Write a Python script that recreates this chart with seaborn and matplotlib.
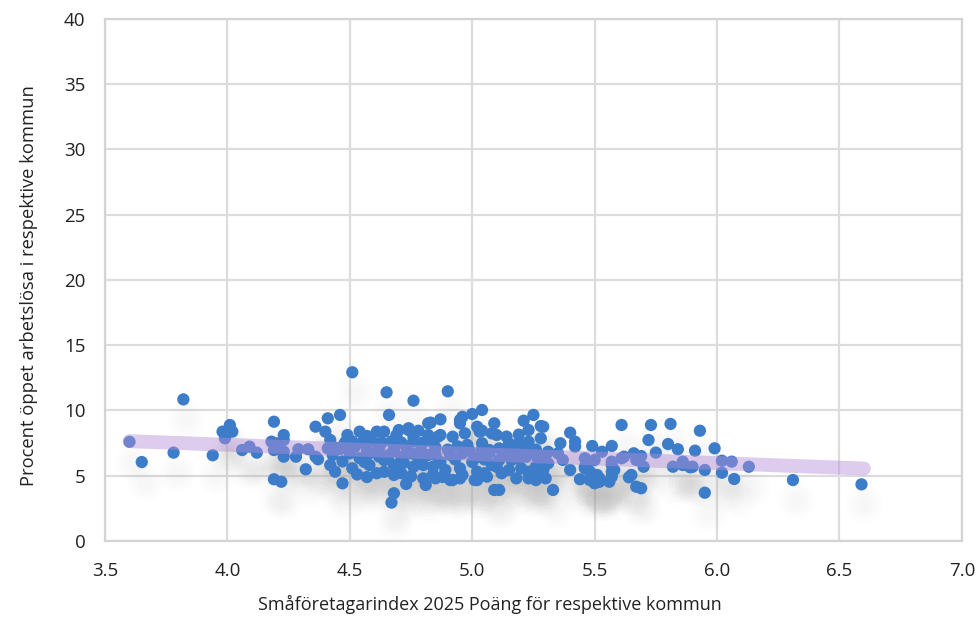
import numpy as np
import matplotlib.pyplot as plt
import matplotlib.transforms as mtransforms
import seaborn as sns
import pandas as pd

# Småföretagarindex 2025 (poäng) per kommun
index_2025 = [
    3.60, 3.65, 3.82, 3.78, 3.94, 3.98, 4.01, 4.02, 3.99, 4.06, 4.09, 4.12,
    4.19, 4.18, 4.20, 4.23, 4.23, 4.19, 4.23, 4.23, 4.19, 4.22, 4.28, 4.29,
    4.33, 4.32, 4.36, 4.36, 4.40, 4.41, 4.41, 4.42, 4.44, 4.37, 4.42, 4.45,
    4.51, 4.65, 4.76, 4.90, 4.46, 4.66, 4.87, 4.83, 4.95, 4.96, 5.00, 5.04,
    5.02, 5.04, 4.54, 4.61, 4.64, 4.70, 4.74, 4.78, 4.82, 4.86, 4.92, 4.97,
    4.47, 4.61, 4.68, 4.68, 4.67, 4.73, 4.80, 4.81, 4.92, 4.96, 5.02, 5.05,
    4.49, 4.74, 4.82,
    4.48, 4.51, 4.55, 4.59, 4.63, 4.67, 4.71, 4.76, 4.80, 4.84,
    4.43, 4.50, 4.54, 4.58, 4.62, 4.66, 4.71, 4.75, 4.78, 4.82,
    4.51, 4.58, 4.68, 4.76, 4.80,
    4.95, 5.09, 5.08, 5.10, 5.03, 5.21, 5.25, 5.23, 5.28, 4.87, 4.98,
    5.15, 5.19, 5.23, 5.04, 5.11,
    4.85, 4.91, 4.96, 5.03, 5.07, 5.14, 5.18, 5.22, 5.26, 5.30,
    4.84, 4.89, 4.95, 5.02, 5.10, 5.15, 5.20, 5.23, 5.29,
    4.85, 4.91, 4.95, 5.01, 5.06, 5.18, 5.26,
    5.09, 5.11, 5.33,
    5.28, 5.40, 5.42, 5.42, 5.49, 5.53, 5.57, 5.61, 5.66, 5.67,
    5.36, 5.35, 5.37, 5.31, 5.27, 5.31,
    5.40, 5.44, 5.46, 5.51, 5.50, 5.52, 5.57, 5.58,
    5.65, 5.67, 5.50, 5.57, 5.61, 5.46, 5.47,
    5.07, 5.16, 5.21, 5.23, 5.19, 5.16, 5.11, 5.08, 5.26, 5.27, 5.30, 5.23, 5.12,
    5.29, 5.73, 5.81, 5.93, 5.72, 5.75, 5.80, 5.84, 5.91, 5.99,
    5.62, 5.69, 5.70, 5.57, 5.57,
    5.82, 5.86, 5.90, 5.95, 5.95, 5.69, 5.64,
    5.46, 5.48, 5.52, 5.52, 5.48, 5.56,
    5.89, 5.86, 6.02, 6.06, 6.02, 6.07, 6.13, 6.31, 6.59,
    4.46, 4.52, 4.57, 4.62, 4.68, 4.73, 4.79, 4.85, 4.90, 4.94, 4.99, 5.04,
    5.13, 5.18, 5.26,
    4.47, 4.56, 4.64, 4.72, 4.79, 4.87, 4.93, 5.00, 5.05,
    4.53, 4.57, 4.64, 4.71, 4.75, 4.84, 4.88,
    4.57, 4.69, 5.14, 5.19, 4.76,
]

# Procent öppet arbetslösa per kommun
arbetslosa = [
    7.60, 6.05, 10.85, 6.77, 6.57, 8.38, 8.89, 8.38, 7.87, 6.97, 7.23, 6.77,
    9.14, 7.61, 7.48, 8.12, 7.74, 6.97, 6.84, 6.46, 4.73, 4.54, 6.46, 7.03,
    7.03, 5.49, 8.76, 6.46, 8.38, 9.40, 7.10, 5.82, 5.31, 6.26, 7.74, 7.13,
    12.93, 11.39, 10.75, 11.47, 9.66, 9.66, 9.32, 9.07, 9.27, 9.52, 9.73, 10.04,
    8.76, 8.45, 8.38, 8.38, 8.38, 8.50, 8.50, 8.45, 8.12, 7.99, 7.99, 8.25,
    4.42, 5.19, 5.06, 3.66, 2.94, 4.37, 4.80, 4.29, 4.67, 5.06, 4.67, 5.19,
    8.12, 8.64, 9.02,
    7.55, 7.63, 7.55, 7.63, 7.55, 7.63, 7.55, 7.63, 7.55, 7.55,
    6.59, 6.72, 6.34, 6.72, 6.46, 6.59, 6.46, 6.72, 6.34, 6.59,
    5.57, 5.82, 5.82, 5.69, 5.82,
    9.02, 9.02, 8.25, 8.12, 8.38, 9.22, 9.66, 8.50, 7.87, 8.12, 7.36,
    7.49, 7.49, 7.61, 7.49, 7.10,
    6.59, 6.59, 6.72, 6.46, 6.72, 6.59, 6.72, 6.46, 6.59, 6.59,
    5.69, 5.44, 5.57, 5.31, 5.69, 5.44, 5.57, 5.31, 5.44,
    4.80, 4.67, 4.80, 4.67, 4.93, 4.80, 4.67,
    3.91, 3.91, 3.91,
    8.81, 8.30, 7.61, 7.23, 7.28, 6.84, 7.28, 8.89, 6.72, 6.21,
    7.49, 6.72, 6.21, 6.84, 6.21, 5.95,
    5.44, 4.73, 5.69, 5.06, 4.42, 4.67, 4.93, 5.44,
    5.06, 4.16, 6.21, 6.08, 6.34, 6.34, 5.82,
    6.97, 7.10, 7.10, 6.80, 6.30, 6.21, 6.21, 5.82, 5.69, 5.06, 4.80, 4.80, 5.19,
    8.76, 8.89, 8.97, 8.45, 7.74, 6.77, 7.43, 7.03, 6.92, 7.10,
    6.46, 6.51, 5.69, 5.82, 5.31,
    5.69, 6.08, 5.69, 5.44, 3.70, 4.04, 4.88,
    5.57, 5.31, 4.80, 4.54, 4.67, 4.54,
    5.65, 5.82, 6.15, 6.08, 5.23, 4.75, 5.69, 4.67, 4.34,
    7.05, 7.20, 6.95, 7.15, 7.00, 7.25, 6.95, 7.15, 7.00, 7.25, 6.90, 7.05,
    6.95, 7.20, 7.00,
    6.10, 6.05, 6.20, 6.00, 6.15, 6.05, 6.25, 6.05, 6.25,
    5.10, 4.90, 5.30, 5.20, 4.95, 5.10, 4.90,
    8.05, 8.10, 8.00, 8.15, 7.95,
]

# trendlinje
trend_x = [3.6, 6.6]
trend_y = [7.65, 5.55]

x_ticks = [3.5, 4.0, 4.5, 5.0, 5.5, 6.0, 6.5, 7.0]
y_ticks = [0, 5, 10, 15, 20, 25, 30, 35, 40]

sns.set_theme(style="whitegrid")
plt.rcParams["font.family"] = ["Open Sans", "DejaVu Sans"]

df = pd.DataFrame({"x": index_2025, "y": arbetslosa})

fig = plt.figure(figsize=(9.77, 6.17), dpi=100)
ax = fig.add_axes([0.1075, 0.1232, 0.877, 0.846])

# mjuk skugga under punkterna, flera lager for att fa en suddig kant
shadow = mtransforms.offset_copy(ax.transData, fig=fig, x=3, y=-20, units="dots")
for size in [120, 260, 450, 700]:
    ax.scatter(df.x, df.y, s=size, color="0.5", alpha=0.012, linewidths=0,
               transform=shadow, zorder=1)

sns.scatterplot(data=df, x="x", y="y", ax=ax, s=78, color="#3d7cc9",
                edgecolor="none", linewidth=0, zorder=3)
sns.lineplot(x=trend_x, y=trend_y, ax=ax, color="#b48fd8", alpha=0.45,
             linewidth=10, solid_capstyle="round", zorder=4)

ax.set_xlim(3.5, 7.0)
ax.set_ylim(0, 40)
ax.set_xticks(x_ticks)
ax.set_xticklabels([f"{t:.1f}" for t in x_ticks])
ax.set_yticks(y_ticks)
ax.set_yticklabels([str(t) for t in y_ticks])
ax.tick_params(axis="both", labelsize=13.5, colors="#222222", length=0)
ax.tick_params(axis="x", pad=15)
ax.tick_params(axis="y", pad=14)

ax.grid(True, color="#dcdcdc", linewidth=1.6)
for sp in ax.spines.values():
    sp.set_color("#d4d4d4")
    sp.set_linewidth(1.6)

ax.set_xlabel("Småföretagarindex 2025 Poäng för respektive kommun", fontsize=13,
              color="#222222")
ax.set_ylabel("Procent öppet arbetslösa i respektive kommun", fontsize=13.2,
              color="#222222")
ax.xaxis.set_label_coords(0.449, -0.104)
ax.yaxis.set_label_coords(-0.078, 0.49)

plt.savefig("out.png", dpi=100)
